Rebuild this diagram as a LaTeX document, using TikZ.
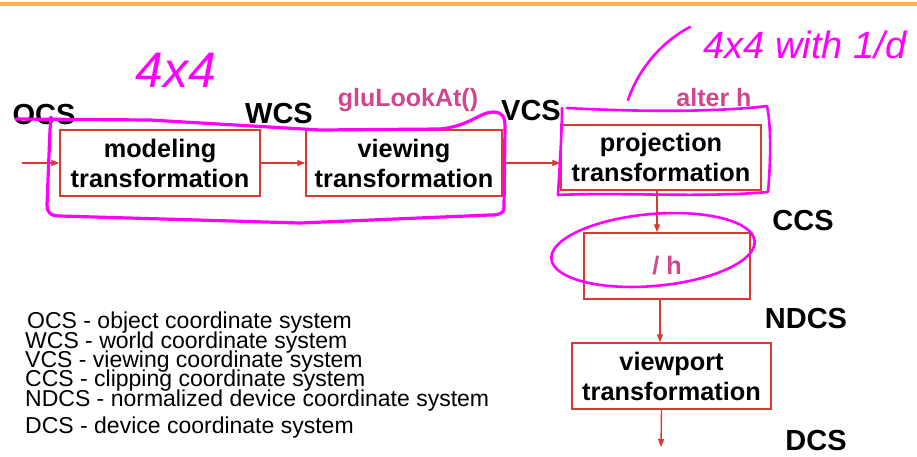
\documentclass[tikz,border=0pt]{standalone}
\usepackage{fontspec}
\setmainfont{Liberation Sans}
\usetikzlibrary{arrows.meta}
\definecolor{boxred}{HTML}{D93A30}
\definecolor{pinklab}{HTML}{D0468F}
\definecolor{hand}{HTML}{FF00FF}
\definecolor{orangebar}{HTML}{FBB44F}
\tikzset{
  tbox/.style={draw=boxred, line width=1.4pt, align=center, inner sep=0pt,
    font=\bfseries\fontsize{25.3}{30}\selectfont, text=black},
  cslabel/.style={font=\bfseries\fontsize{29}{30}\selectfont, text=black, inner sep=0pt},
  pinklabel/.style={font=\bfseries\fontsize{25}{26}\selectfont, text=pinklab, inner sep=0pt},
  legend/.style={anchor=west, font=\fontsize{23}{23}\selectfont, inner sep=0pt},
  flow/.style={draw=boxred, line width=1.4pt, -{Triangle[length=8pt,width=6pt]}},
  handline/.style={draw=hand, line width=3.2pt, line cap=round, line join=round},
  handtext/.style={text=hand, font=\itshape\fontsize{38}{40}\selectfont, inner sep=0pt}
}
\begin{document}
\begin{tikzpicture}[x=1pt,y=-1pt]
\useasboundingbox (0,0) rectangle (917,456);
\fill[white] (0,0) rectangle (917,456);
\draw[orangebar, line width=3.5pt] (0,4) -- (917,4);

% boxes
\node[tbox, minimum width=200pt, minimum height=66pt] (model) at (160,163) {modeling\\transformation};
\node[tbox, minimum width=196pt, minimum height=66pt] (view) at (404,163) {viewing\\transformation};
\node[tbox, minimum width=200pt, minimum height=65pt] (proj) at (661,157.5) {projection\\transformation};
\node[tbox, minimum width=166pt, minimum height=66pt, text=pinklab] (divh) at (667,266) {/ h};
\node[tbox, minimum width=199pt, minimum height=66pt] (vport) at (671.5,376) {viewport\\transformation};

% coordinate system labels
\node[cslabel] (ocs) at (44,115) {OCS};
\node[cslabel] (wcs) at (279,114) {WCS};
\node[cslabel] (vcs) at (531,111) {VCS};
\node[cslabel] (ccs) at (803,221) {CCS};
\node[cslabel] (ndcs) at (806,319) {NDCS};
\node[cslabel] (dcs) at (816,441) {DCS};

\node[pinklabel] (glu) at (408,100) {gluLookAt()};
\node[pinklabel] (alter) at (714,98) {alter h};

% connectors
\coordinate (in) at (22,163);
\coordinate (out) at (661,447);
\draw[flow] (in) -- (model.west |- in);
\draw[flow] (model.east |- in) -- (view.west |- in);
\draw[flow] (view.east |- in) -- (proj.west |- in);
\draw[flow] ([xshift=-4pt]proj.south) -- ([xshift=-4pt]proj.south |- divh.north);
\draw[flow] ([xshift=-7pt]divh.south) -- ([xshift=-7pt]divh.south |- vport.north);
\draw[flow] ([xshift=-10pt]vport.south) -- (out);

% legend
\node[legend] (l1) at (27,323) {OCS - object coordinate system};
\node[legend] (l2) at (25,343) {WCS - world coordinate system};
\node[legend] (l3) at (25,362) {VCS - viewing coordinate system};
\node[legend] (l4) at (25,381) {CCS - clipping coordinate system};
\node[legend] (l5) at (25,401) {NDCS - normalized device coordinate system};
\node[legend] (l6) at (25,428) {DCS - device coordinate system};

% handwritten annotations
\draw[handline] (16,119) -- (150,120) -- (320,130) -- (440,129)
  .. controls (470,126) and (480,112) .. (493,112)
  .. controls (503,112) and (505,118) .. (505,125)
  -- (504,208) .. controls (504,214) and (498,215) .. (490,215)
  -- (300,223) -- (60,216) .. controls (50,216) and (47,212) .. (47,205)
  -- (50,130) -- (51,117);
\draw[handline, line width=2.6pt] (567,108) .. controls (640,112) and (720,112) .. (767,106)
  .. controls (772,130) and (770,170) .. (768,192)
  .. controls (700,198) and (620,192) .. (558,195)
  .. controls (560,160) and (562,130) .. (562,108);
\draw[handline, line width=2.6pt, rotate around={5:(653,250)}] (653,250) ellipse [x radius=102, y radius=36];
\draw[handline, line width=2.6pt] (628,100) .. controls (640,65) and (665,40) .. (690,27);
\node[handtext, font=\itshape\fontsize{50}{52}\selectfont] (h1) at (176,70) {4x4};
\node[handtext] (h2) at (805,45) {4x4 with 1/d};
\end{tikzpicture}
\end{document}
